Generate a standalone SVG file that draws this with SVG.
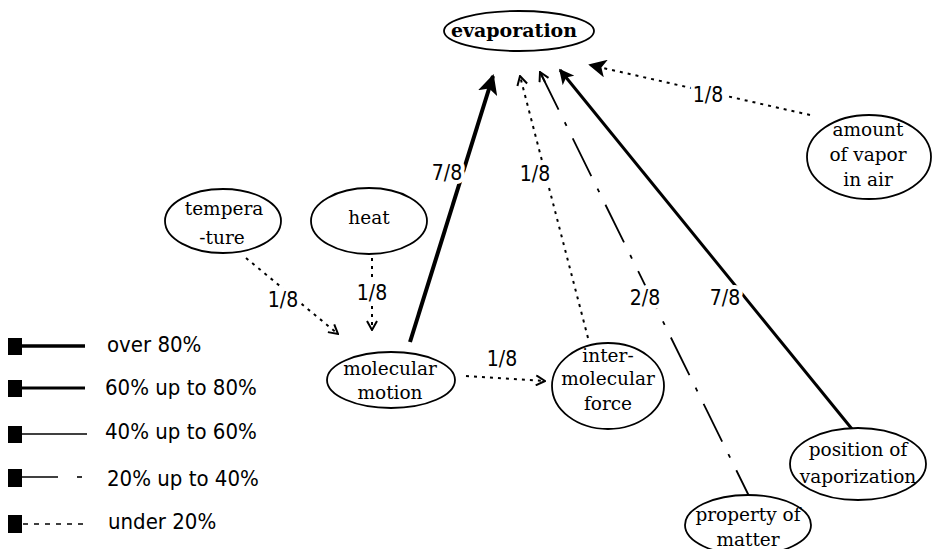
<svg xmlns="http://www.w3.org/2000/svg" width="936" height="549" viewBox="0 0 936 549">
  <style>
    .node ellipse { fill: #fff; stroke: #000; stroke-width: 1.8; }
    .nt { font-family: "DejaVu Serif", "Liberation Serif", serif; font-size: 18.5px; fill: #000; text-anchor: middle; }
    .title { font-weight: bold; font-size: 19px; }
    .edge { fill: none; stroke: #000; stroke-linecap: butt; }
    .w1 { stroke-width: 4; }
    .w2 { stroke-width: 3; }
    .w3 { stroke-width: 1.8; }
    .dash20 { stroke-width: 1.8; stroke-dasharray: 42 14 4 14; }
    .dot { stroke-width: 2; stroke-dasharray: 3 5; }
    .lbl { font-family: "DejaVu Sans Condensed", "DejaVu Sans", sans-serif; font-size: 21px; fill: #000; text-anchor: middle;
           stroke: #fff; stroke-width: 8; paint-order: stroke; stroke-linejoin: round; }
    .leg { font-family: "DejaVu Sans Condensed", "DejaVu Sans", sans-serif; font-size: 22px; fill: #000; }
  </style>
  <defs>
    <marker id="solid" viewBox="0 0 10 10" refX="9" refY="5" markerWidth="5" markerHeight="5" markerUnits="strokeWidth" orient="auto">
      <path d="M0,0 L10,5 L0,10 L2.5,5 Z" fill="#000"/>
    </marker>
    <marker id="solidS" viewBox="0 0 10 10" refX="9" refY="5" markerWidth="9" markerHeight="9" markerUnits="strokeWidth" orient="auto">
      <path d="M0,0 L10,5 L0,10 L2.5,5 Z" fill="#000"/>
    </marker>
    <marker id="open" viewBox="0 0 12 12" refX="11" refY="6" markerWidth="12" markerHeight="12" markerUnits="userSpaceOnUse" orient="auto">
      <path d="M2,1 L11,6 L2,11" fill="none" stroke="#000" stroke-width="2"/>
    </marker>
  </defs>

  <rect width="936" height="549" fill="#fff"/>

  <!-- connectors -->
  <g id="connectors">
    <path class="edge w1" d="M410,342 L493,76" marker-end="url(#solid)"/>
    <path class="edge dot" d="M588,338 L520,76" marker-end="url(#open)"/>
    <path class="edge dash20" d="M540,72 L749,496"/>
    <path class="edge w3" d="M545,82 L540,72" marker-end="url(#open)"/>
    <path class="edge w2" d="M852,429 L560,70" marker-end="url(#solid)"/>
    <path class="edge dot" d="M810,115 L590,65" marker-end="url(#solidS)"/>
    <path class="edge dot" d="M246,258 L338,334" marker-end="url(#open)"/>
    <path class="edge dot" d="M372,258 L372,330" marker-end="url(#open)"/>
    <path class="edge dot" d="M466,376 L545,381" marker-end="url(#open)"/>

    <text class="lbl" x="447" y="180">7/8</text>
    <text class="lbl" x="535" y="181">1/8</text>
    <text class="lbl" x="645" y="305">2/8</text>
    <text class="lbl" x="725" y="305">7/8</text>
    <text class="lbl" x="708" y="102">1/8</text>
    <text class="lbl" x="283" y="307">1/8</text>
    <text class="lbl" x="372" y="300">1/8</text>
    <text class="lbl" x="502" y="366">1/8</text>
  </g>

  <g id="evaporation" class="node">
    <ellipse cx="519" cy="31" rx="75" ry="20"/>
    <text class="nt title" x="514" y="37">evaporation</text>
  </g>
  <g id="temperature" class="node">
    <ellipse cx="223" cy="221" rx="58" ry="32"/>
    <text class="nt" x="224" y="215">tempera</text>
    <text class="nt" x="222" y="244">-ture</text>
  </g>
  <g id="heat" class="node">
    <ellipse cx="369" cy="221" rx="58" ry="33"/>
    <text class="nt" x="369" y="224">heat</text>
  </g>
  <g id="molecular-motion" class="node">
    <ellipse cx="391" cy="380" rx="64" ry="28"/>
    <text class="nt" x="390" y="375">molecular</text>
    <text class="nt" x="390" y="399">motion</text>
  </g>
  <g id="intermolecular-force" class="node">
    <ellipse cx="608" cy="386" rx="56" ry="43"/>
    <text class="nt" x="608" y="362">inter-</text>
    <text class="nt" x="608" y="385">molecular</text>
    <text class="nt" x="608" y="410">force</text>
  </g>
  <g id="amount-of-vapor" class="node">
    <ellipse cx="869" cy="157" rx="62" ry="42"/>
    <text class="nt" x="868" y="136">amount</text>
    <text class="nt" x="868" y="161">of vapor</text>
    <text class="nt" x="868" y="186">in air</text>
  </g>
  <g id="position-of-vaporization" class="node">
    <ellipse cx="858" cy="464" rx="68" ry="36"/>
    <text class="nt" x="858" y="456">position of</text>
    <text class="nt" x="858" y="483">vaporization</text>
  </g>
  <g id="property-of-matter" class="node">
    <ellipse cx="748" cy="525" rx="63" ry="30"/>
    <text class="nt" x="748" y="521">property of</text>
    <text class="nt" x="748" y="546">matter</text>
  </g>

  <!-- legend -->
  <g id="legend">
    <rect x="8" y="338" width="14" height="17"/>
    <line x1="22" y1="346" x2="85" y2="346" stroke="#000" stroke-width="3.5"/>
    <text class="leg" x="107" y="352">over 80%</text>

    <rect x="8" y="380" width="14" height="17"/>
    <line x1="22" y1="388" x2="85" y2="388" stroke="#000" stroke-width="2.8"/>
    <text class="leg" x="105" y="395">60% up to 80%</text>

    <rect x="8" y="426" width="14" height="17"/>
    <line x1="22" y1="434" x2="87" y2="434" stroke="#000" stroke-width="1.6"/>
    <text class="leg" x="105" y="439">40% up to 60%</text>

    <rect x="8" y="469" width="14" height="18"/>
    <line x1="22" y1="477" x2="58" y2="477" stroke="#000" stroke-width="1.6"/>
    <line x1="77" y1="477" x2="82" y2="477" stroke="#000" stroke-width="1.6"/>
    <text class="leg" x="107" y="486">20% up to 40%</text>

    <rect x="8" y="515" width="14" height="18"/>
    <line x1="23" y1="524" x2="83" y2="524" stroke="#000" stroke-width="1.6" stroke-dasharray="5 6"/>
    <text class="leg" x="108" y="529">under 20%</text>
  </g>
</svg>
